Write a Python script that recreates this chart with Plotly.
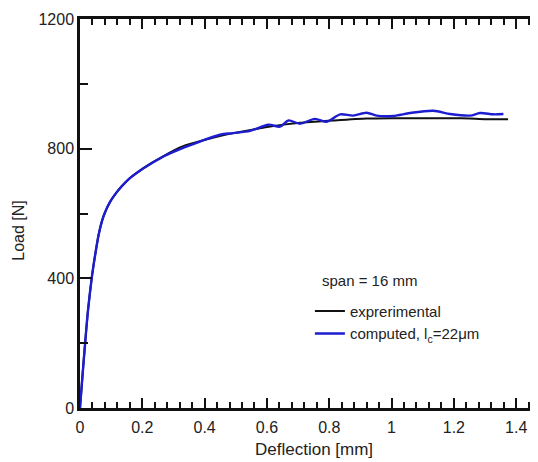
import plotly.graph_objects as go

# Experimental load-deflection curve
exp_x = [0, 0.008, 0.016, 0.025, 0.0375, 0.045, 0.052, 0.06, 0.07, 0.08, 0.096, 0.115,
         0.134, 0.16, 0.198, 0.23, 0.268, 0.3, 0.337, 0.385, 0.423, 0.492, 0.55, 0.6,
         0.706, 0.813, 0.92, 1.0, 1.1, 1.2, 1.25, 1.3, 1.374]
exp_y = [0, 100, 195, 295, 400, 450, 492, 535, 575, 603, 635, 662,
         684, 709, 736, 756, 777, 794, 810, 823, 833, 848, 858, 867,
         880, 887, 893, 894, 894, 894, 893, 891, 891]

# Computed curve (l_c = 22 um)
com_x = [0, 0.008, 0.016, 0.025, 0.0375, 0.045, 0.052, 0.06, 0.07, 0.08, 0.096, 0.115,
         0.134, 0.16, 0.198, 0.23, 0.268, 0.3, 0.337, 0.385, 0.449, 0.492, 0.546, 0.605,
         0.642, 0.669, 0.706, 0.754, 0.792, 0.835, 0.877, 0.92, 0.952, 1.006, 1.059,
         1.134, 1.188, 1.252, 1.284, 1.327, 1.359]
com_y = [0, 100, 195, 295, 400, 450, 492, 535, 575, 603, 635, 662,
         684, 709, 736, 755, 776, 790, 805, 822, 843, 848, 855, 874,
         868, 887, 877, 892, 883, 906, 902, 911, 902, 901, 910,
         917, 907, 902, 910, 906, 907]

x_range = [0, 1.47]
y_range = [0, 1200]

FONT = "Liberation Sans, Arial, sans-serif"

fig = go.Figure()
fig.add_trace(go.Scatter(x=exp_x, y=exp_y, mode="lines", name="exprerimental",
                         line=dict(color="#111111", width=2, shape="spline",
                                   smoothing=0.6)))
fig.add_trace(go.Scatter(x=com_x, y=com_y, mode="lines",
                         name="computed, l<sub>c</sub>=22μm",
                         line=dict(color="#1c1cd0", width=2.4, shape="spline",
                                   smoothing=0.8)))

axis_common = dict(showgrid=False, zeroline=False, showline=True, linecolor="#111",
                   linewidth=2.5, ticks="inside", tickcolor="#111", tickwidth=2,
                   tickfont=dict(family=FONT, size=16, color="#222"))

fig.update_xaxes(range=x_range, tick0=0, dtick=0.2, ticklen=10, mirror="ticks",
                 ticklabelstandoff=3,
                 minor=dict(dtick=0.04, ticks="inside", ticklen=6, tickwidth=2,
                            tickcolor="#111"),
                 **axis_common)
fig.update_yaxes(range=y_range, tick0=0, dtick=400, ticklen=12, mirror=False,
                 minor=dict(dtick=200, ticks="inside", ticklen=8, tickwidth=2,
                            tickcolor="#111"),
                 **axis_common)

fig.add_annotation(text="Deflection [mm]", xref="paper", yref="paper",
                   x=0.511, y=-0.107, xanchor="center", yanchor="middle",
                   showarrow=False, font=dict(family=FONT, size=17, color="#222"))
fig.add_annotation(text="Load [N]", xref="paper", yref="paper", textangle=-90,
                   x=-0.133, y=0.456, xanchor="center", yanchor="middle",
                   showarrow=False, font=dict(family=FONT, size=16, color="#222"))
fig.add_annotation(text="span = 16 mm", xref="paper", yref="paper",
                   x=0.633, y=0.327, xanchor="center", yanchor="middle",
                   showarrow=False, font=dict(family=FONT, size=15, color="#222"))

# page body adds an 8px offset; figure spans 8..538 x 8..462
fig.update_layout(
    width=530, height=454,
    margin=dict(l=72, r=0, t=11, b=54),
    paper_bgcolor="white", plot_bgcolor="white",
    font=dict(family=FONT, color="#222"),
    showlegend=True,
    legend=dict(x=0.502, y=0.291, xanchor="left", yanchor="top",
                bgcolor="rgba(0,0,0,0)", tracegroupgap=0,
                font=dict(family=FONT, size=15, color="#222")),
)

fig.write_html("out.html")
